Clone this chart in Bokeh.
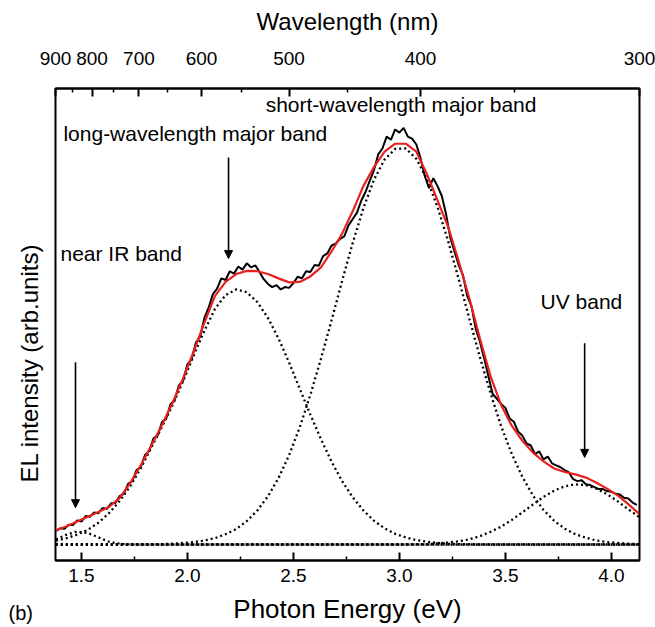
import math
from bokeh.plotting import figure
from bokeh.models import (LinearAxis, FixedTicker, CustomJSTickFormatter, PrintfTickFormatter,
                          Label, Arrow, NormalHead, Title)
from bokeh.embed import file_html
from bokeh.resources import INLINE

HC = 1239.84  # eV*nm

# ---------------- axis ticks ----------------
wl_major = [900, 800, 700, 600, 500, 400, 300]
wl_minor = [850, 750, 650, 550, 450, 350]
ev_major = [1.5, 2.0, 2.5, 3.0, 3.5, 4.0]
ev_minor = [1.75, 2.25, 2.75, 3.25, 3.75]

# ---------------- fit curves ----------------
fit_energy = [round(1.38 + 0.05 * i, 2) for i in range(56)]
fit_total = [0.036, 0.046, 0.058, 0.070, 0.082, 0.095, 0.117, 0.155, 0.200, 0.250,
             0.302, 0.358, 0.420, 0.488, 0.560, 0.628, 0.663, 0.683, 0.691, 0.690,
             0.683, 0.672, 0.662, 0.663, 0.677, 0.700, 0.740, 0.785, 0.842, 0.905,
             0.953, 0.992, 1.012, 1.012, 0.992, 0.935, 0.869, 0.802, 0.715, 0.622,
             0.520, 0.425, 0.352, 0.300, 0.262, 0.232, 0.210, 0.192, 0.183, 0.177,
             0.169, 0.156, 0.141, 0.124, 0.102, 0.078]
band_nir = [0.013, 0.025, 0.033, 0.029, 0.018, 0.007, 0.002, 0.000, 0.000, 0.000,
            0.000, 0.000, 0.000, 0.000, 0.000, 0.000, 0.000, 0.000, 0.000, 0.000,
            0.000, 0.000, 0.000, 0.000, 0.000, 0.000, 0.000, 0.000, 0.000, 0.000,
            0.000, 0.000, 0.000, 0.000, 0.000, 0.000, 0.000, 0.000, 0.000, 0.000,
            0.000, 0.000, 0.000, 0.000, 0.000, 0.000, 0.000, 0.000, 0.000, 0.000,
            0.000, 0.000, 0.000, 0.000, 0.000, 0.000]
band_long = [0.010, 0.016, 0.025, 0.037, 0.055, 0.079, 0.110, 0.147, 0.193, 0.245,
             0.297, 0.352, 0.413, 0.478, 0.540, 0.595, 0.630, 0.644, 0.637, 0.612,
             0.572, 0.520, 0.459, 0.393, 0.328, 0.266, 0.209, 0.160, 0.119, 0.086,
             0.060, 0.041, 0.027, 0.018, 0.011, 0.007, 0.004, 0.002, 0.001, 0.001,
             0.000, 0.000, 0.000, 0.000, 0.000, 0.000, 0.000, 0.000, 0.000, 0.000,
             0.000, 0.000, 0.000, 0.000, 0.000, 0.000]
band_short = [0.000, 0.000, 0.000, 0.000, 0.000, 0.000, 0.000, 0.000, 0.000, 0.001,
              0.001, 0.002, 0.004, 0.006, 0.010, 0.016, 0.026, 0.039, 0.059, 0.086,
              0.122, 0.168, 0.226, 0.296, 0.378, 0.469, 0.566, 0.666, 0.762, 0.849,
              0.921, 0.972, 0.999, 1.000, 0.974, 0.923, 0.852, 0.766, 0.670, 0.570,
              0.473, 0.382, 0.299, 0.229, 0.171, 0.124, 0.087, 0.060, 0.040, 0.026,
              0.017, 0.010, 0.006, 0.004, 0.002, 0.001]
band_uv = [0.000, 0.000, 0.000, 0.000, 0.000, 0.000, 0.000, 0.000, 0.000, 0.000,
           0.000, 0.000, 0.000, 0.000, 0.000, 0.000, 0.000, 0.000, 0.000, 0.000,
           0.000, 0.000, 0.000, 0.000, 0.000, 0.000, 0.000, 0.000, 0.000, 0.000,
           0.000, 0.000, 0.000, 0.000, 0.001, 0.001, 0.003, 0.005, 0.008, 0.013,
           0.021, 0.032, 0.045, 0.062, 0.081, 0.101, 0.120, 0.136, 0.147, 0.152,
           0.150, 0.141, 0.127, 0.109, 0.089, 0.070]
baseline_energy = [HC / 900, HC / 300]
baseline_value = [0.0, 0.0]

data_energy = [round(1.38 + 0.02 * i, 2) for i in range(138)]
data_el = [0.034, 0.041, 0.040, 0.050, 0.049, 0.061, 0.058, 0.072, 0.070, 0.081,
           0.079, 0.092, 0.090, 0.104, 0.105, 0.122, 0.128, 0.153, 0.160, 0.188,
           0.196, 0.226, 0.236, 0.268, 0.276, 0.309, 0.318, 0.354, 0.365, 0.402,
           0.414, 0.455, 0.468, 0.510, 0.525, 0.572, 0.598, 0.632, 0.646, 0.672,
           0.668, 0.690, 0.684, 0.702, 0.694, 0.710, 0.700, 0.705, 0.688, 0.670,
           0.658, 0.650, 0.655, 0.644, 0.650, 0.648, 0.660, 0.676, 0.672, 0.690,
           0.688, 0.706, 0.704, 0.728, 0.735, 0.755, 0.760, 0.772, 0.778, 0.806,
           0.822, 0.838, 0.868, 0.890, 0.918, 0.945, 0.985, 1.000, 1.030, 1.022,
           1.048, 1.040, 1.052, 1.030, 1.025, 1.010, 0.975, 0.930, 0.900, 0.925,
           0.905, 0.880, 0.835, 0.775, 0.740, 0.705, 0.680, 0.628, 0.602, 0.545,
           0.512, 0.470, 0.425, 0.380, 0.368, 0.355, 0.345, 0.318, 0.310, 0.285,
           0.275, 0.255, 0.250, 0.228, 0.235, 0.215, 0.222, 0.205, 0.200, 0.195,
           0.188, 0.182, 0.165, 0.160, 0.162, 0.152, 0.150, 0.145, 0.140, 0.140,
           0.135, 0.133, 0.128, 0.126, 0.118, 0.116, 0.106, 0.100]

# ---------------- annotations ----------------
band_labels = ["short-wavelength major band", "long-wavelength major band", "near IR band", "UV band"]
label_x = [2.369, 1.415, 1.401, 3.666]
label_y = [1.111, 1.038, 0.735, 0.614]
arrow_x = [1.472, 2.194, 3.874]
arrow_y0 = [0.460, 0.977, 0.508]
arrow_y1 = [0.093, 0.722, 0.220]

FONT = "Liberation Sans"

p = figure(width=655, height=627, output_backend="svg", toolbar_location=None,
           x_range=(HC / 900 - 1e-9, HC / 300 + 1e-9), y_range=(-0.0404, 1.1515),
           min_border_left=55, min_border_right=16, min_border_top=88, min_border_bottom=67)
p.background_fill_color = "white"
p.border_fill_color = "white"
p.grid.visible = False
p.outline_line_color = "black"
p.outline_line_width = 2
p.yaxis.visible = False

# bottom axis
xa = p.xaxis[0]
xa.ticker = FixedTicker(ticks=ev_major, minor_ticks=ev_minor)
xa.formatter = PrintfTickFormatter(format="%.1f")
xa.axis_label = "Photon Energy (eV)"
# top axis
top = LinearAxis(ticker=FixedTicker(ticks=[HC / w for w in wl_major], minor_ticks=[HC / w for w in wl_minor]),
                 formatter=CustomJSTickFormatter(args=dict(hc=HC), code="return Math.round(hc / tick).toString();"),
                 axis_label="Wavelength (nm)")
p.add_layout(top, "above")

for ax, std, astd, tsize in ((xa, 8, 9, "26px"), (top, 24, 14, "24px")):
    ax.axis_line_color = "black"
    ax.axis_line_width = 2
    ax.major_tick_in = 8
    ax.major_tick_out = 0
    ax.minor_tick_in = 4
    ax.minor_tick_out = 0
    ax.major_tick_line_width = 2
    ax.minor_tick_line_width = 1.5
    ax.major_tick_line_color = "black"
    ax.minor_tick_line_color = "black"
    ax.major_label_text_font = FONT
    ax.major_label_text_font_size = "19px"
    ax.major_label_text_color = "black"
    ax.major_label_standoff = std
    ax.axis_label_text_font = FONT
    ax.axis_label_text_font_size = tsize
    ax.axis_label_text_font_style = "normal"
    ax.axis_label_text_color = "black"
    ax.axis_label_standoff = astd

# y-axis title as a left-side title, shifted down like the original
p.add_layout(Title(text="EL intensity (arb.units)", align="left", offset=78, standoff=26,
                   text_font=FONT, text_font_size="24px", text_font_style="normal",
                   text_color="black"), "left")
# panel letter, placed in the bottom margin next to the x-axis title
p.add_layout(Title(text="(b)", align="left", offset=-47, standoff=-50, vertical_align="top",
                   text_font=FONT, text_font_size="20px", text_font_style="normal",
                   text_color="black"), "below")

# curves
dot = dict(line_color="black", line_width=2.3, line_dash="2 3")
p.line(baseline_energy, baseline_value, **dot)
p.line(fit_energy, band_nir, **dot)
p.line(fit_energy, band_long, **dot)
p.line(fit_energy, band_short, **dot)
p.line(fit_energy, band_uv, **dot)
p.line(data_energy, data_el, line_color="black", line_width=2)
p.line(fit_energy, fit_total, line_color="#e8211f", line_width=2.2)

for t, x, y in zip(band_labels, label_x, label_y):
    p.add_layout(Label(x=x, y=y, text=t, text_font=FONT, text_font_size="21px",
                       text_color="black", text_align="left", text_baseline="middle"))
for x, y0, y1 in zip(arrow_x, arrow_y0, arrow_y1):
    p.add_layout(Arrow(x_start=x, y_start=y0, x_end=x, y_end=y1, line_width=1.6, line_color="black",
                       end=NormalHead(size=8, fill_color="black", line_color="black")))

open("out.html", "w").write(file_html(p, INLINE))
